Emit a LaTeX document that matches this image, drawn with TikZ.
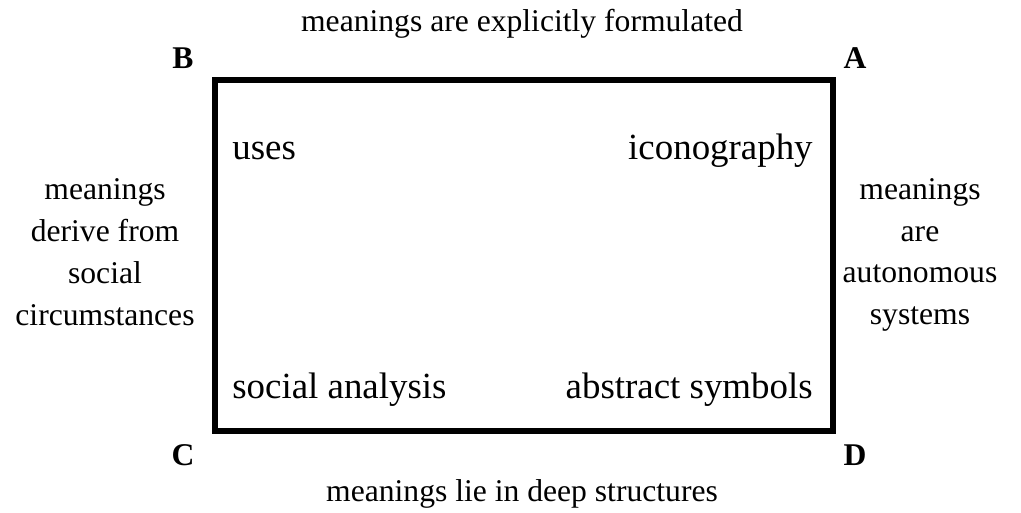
\documentclass[tikz,border=0pt]{standalone}
\usepackage{fontspec}
\setmainfont{Liberation Serif}
\tikzset{
  side/.style={font=\fontsize{18}{23.8}\selectfont, align=center, inner sep=0pt},
  corner/.style={font=\fontsize{18}{22}\selectfont\bfseries, inner sep=0pt},
  field/.style={font=\fontsize{21}{25}\selectfont, inner sep=0pt}
}
\begin{document}
\begin{tikzpicture}[x=0.02cm, y=-0.02cm]
  \useasboundingbox (0,0) rectangle (1021,513);
  \coordinate (nw) at (215,80);
  \coordinate (se) at (833,431);
  \draw[line width=3.4pt] (nw) rectangle (se);
  \node[side] (top) at (522,24) {meanings are explicitly formulated};
  \node[side] (bottom) at (522,494) {meanings lie in deep structures};
  \node[side] (left) at (105,252) {meanings\\derive from\\social\\circumstances};
  \node[side] (right) at (920,255) {meanings\\are\\autonomous\\systems};
  \node[corner] (B) at (183,58) {B};
  \node[corner] (A) at (855,58) {A};
  \node[corner] (C) at (183,455) {C};
  \node[corner] (D) at (855,455) {D};
  \node[field, anchor=base west] (uses) at (232,160) {uses};
  \node[field, anchor=base east] (icon) at (813,160) {iconography};
  \node[field, anchor=base west] (social) at (232,398) {social analysis};
  \node[field, anchor=base east] (abstract) at (813,398) {abstract symbols};
\end{tikzpicture}
\end{document}
